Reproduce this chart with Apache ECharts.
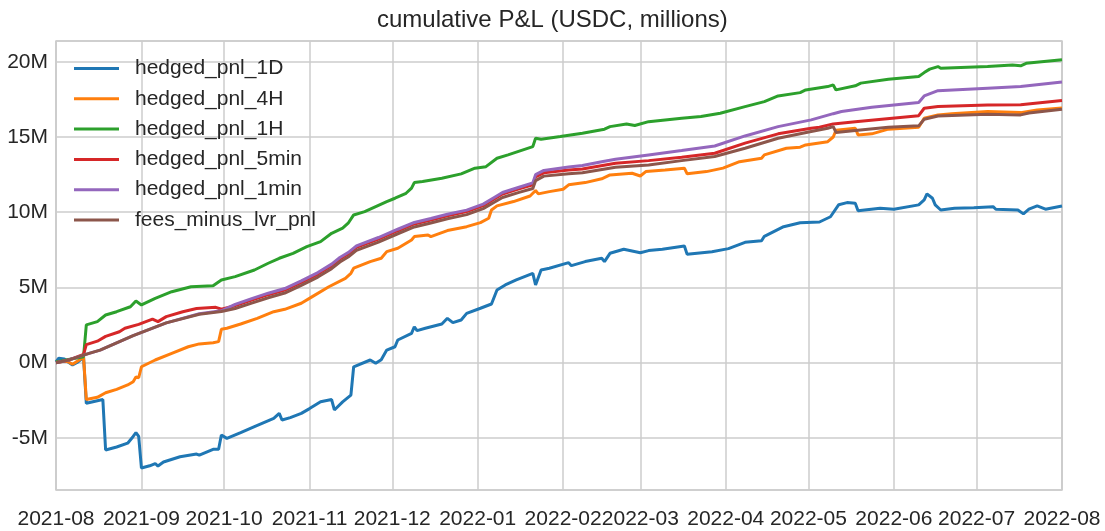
<!DOCTYPE html>
<html>
<head>
<meta charset="utf-8">
<title>cumulative P&amp;L</title>
<script src="https://cdn.jsdelivr.net/npm/echarts@6/dist/echarts.min.js"></script>
<style>
html, body { margin: 0; padding: 0; background: #fff; }
#main { width: 1105px; height: 531px; }
</style>
</head>
<body>
<div id="main"></div>
<script>
// cumulative P&L, millions of USDC, [date, value]
var hedgedPnl1D = [
    ['2021-08-01', 0.05], ['2021-08-02', 0.3], ['2021-08-04', 0.25], ['2021-08-05', 0.1],
    ['2021-08-07', -0.15], ['2021-08-09', 0.05], ['2021-08-11', 0.35], ['2021-08-12', -2.7],
    ['2021-08-18', -2.45], ['2021-08-19', -5.8], ['2021-08-23', -5.6], ['2021-08-27', -5.35],
    ['2021-08-29', -4.9], ['2021-08-30', -4.65], ['2021-08-31', -4.9], ['2021-09-01', -7.0],
    ['2021-09-04', -6.85], ['2021-09-06', -6.7], ['2021-09-07', -6.87], ['2021-09-09', -6.6],
    ['2021-09-15', -6.25], ['2021-09-21', -6.07], ['2021-09-22', -6.15], ['2021-09-27', -5.76],
    ['2021-09-29', -5.75], ['2021-09-30', -4.81], ['2021-10-02', -5.03], ['2021-10-07', -4.65],
    ['2021-10-12', -4.25], ['2021-10-19', -3.7], ['2021-10-21', -3.37], ['2021-10-22', -3.81],
    ['2021-10-25', -3.65], ['2021-10-29', -3.37], ['2021-11-01', -3.05], ['2021-11-05', -2.59],
    ['2021-11-09', -2.45], ['2021-11-10', -3.14], ['2021-11-13', -2.6], ['2021-11-16', -2.15],
    ['2021-11-17', -0.27], ['2021-11-23', 0.18], ['2021-11-25', -0.04], ['2021-11-27', 0.2],
    ['2021-11-29', 0.84], ['2021-12-02', 1.06], ['2021-12-03', 1.51], ['2021-12-08', 1.95],
    ['2021-12-09', 2.39], ['2021-12-10', 2.13], ['2021-12-13', 2.29], ['2021-12-19', 2.57],
    ['2021-12-21', 2.95], ['2021-12-23', 2.66], ['2021-12-26', 2.84], ['2021-12-28', 3.28],
    ['2022-01-02', 3.62], ['2022-01-06', 3.9], ['2022-01-08', 4.83], ['2022-01-11', 5.17],
    ['2022-01-15', 5.5], ['2022-01-21', 5.94], ['2022-01-22', 5.17], ['2022-01-24', 6.16],
    ['2022-01-27', 6.28], ['2022-02-03', 6.65], ['2022-02-04', 6.45], ['2022-02-09', 6.72],
    ['2022-02-15', 6.94], ['2022-02-16', 6.72], ['2022-02-18', 7.27], ['2022-02-23', 7.54],
    ['2022-03-01', 7.31], ['2022-03-04', 7.45], ['2022-03-09', 7.54], ['2022-03-17', 7.76],
    ['2022-03-18', 7.2], ['2022-03-27', 7.38], ['2022-04-02', 7.58], ['2022-04-08', 8.0],
    ['2022-04-14', 8.1], ['2022-04-15', 8.4], ['2022-04-22', 9.04], ['2022-04-28', 9.3],
    ['2022-05-05', 9.35], ['2022-05-09', 9.7], ['2022-05-12', 10.5], ['2022-05-15', 10.64],
    ['2022-05-18', 10.6], ['2022-05-19', 10.1], ['2022-05-27', 10.27], ['2022-06-01', 10.2],
    ['2022-06-10', 10.49], ['2022-06-12', 10.82], ['2022-06-13', 11.22], ['2022-06-15', 10.93],
    ['2022-06-16', 10.49], ['2022-06-18', 10.15], ['2022-06-23', 10.27], ['2022-06-30', 10.3],
    ['2022-07-07', 10.37], ['2022-07-08', 10.2], ['2022-07-16', 10.15], ['2022-07-18', 9.89],
    ['2022-07-20', 10.2], ['2022-07-23', 10.42], ['2022-07-26', 10.2], ['2022-08-01', 10.42]
];

var hedgedPnl4H = [
    ['2021-08-01', 0.05], ['2021-08-05', 0.1], ['2021-08-07', -0.1], ['2021-08-11', 0.36],
    ['2021-08-12', -2.45], ['2021-08-16', -2.3], ['2021-08-19', -2.0], ['2021-08-23', -1.77],
    ['2021-08-27', -1.48], ['2021-08-29', -1.26], ['2021-08-30', -0.95], ['2021-08-31', -1.0],
    ['2021-09-01', -0.27], ['2021-09-06', 0.18], ['2021-09-12', 0.62], ['2021-09-18', 1.06],
    ['2021-09-22', 1.25], ['2021-09-27', 1.33], ['2021-09-29', 1.4], ['2021-09-30', 2.22],
    ['2021-10-02', 2.29], ['2021-10-07', 2.57], ['2021-10-13', 2.95], ['2021-10-19', 3.39],
    ['2021-10-23', 3.55], ['2021-10-29', 3.95], ['2021-11-02', 4.39], ['2021-11-08', 5.05],
    ['2021-11-14', 5.61], ['2021-11-16', 5.94], ['2021-11-17', 6.28], ['2021-11-23', 6.72],
    ['2021-11-27', 6.94], ['2021-11-29', 7.38], ['2021-12-03', 7.61], ['2021-12-08', 8.16],
    ['2021-12-09', 8.38], ['2021-12-14', 8.49], ['2021-12-15', 8.38], ['2021-12-21', 8.78],
    ['2021-12-28', 9.04], ['2022-01-02', 9.31], ['2022-01-05', 9.6], ['2022-01-06', 10.15],
    ['2022-01-08', 10.42], ['2022-01-14', 10.71], ['2022-01-20', 11.08], ['2022-01-21', 11.26],
    ['2022-01-22', 11.44], ['2022-01-23', 11.22], ['2022-01-27', 11.37], ['2022-02-01', 11.53],
    ['2022-02-03', 11.82], ['2022-02-09', 11.97], ['2022-02-15', 12.22], ['2022-02-18', 12.48],
    ['2022-02-26', 12.59], ['2022-03-01', 12.41], ['2022-03-03', 12.7], ['2022-03-10', 12.81],
    ['2022-03-17', 12.93], ['2022-03-18', 12.55], ['2022-03-25', 12.7], ['2022-03-31', 12.93],
    ['2022-04-06', 13.36], ['2022-04-14', 13.59], ['2022-04-15', 13.81], ['2022-04-23', 14.25],
    ['2022-04-28', 14.32], ['2022-04-30', 14.47], ['2022-05-08', 14.69], ['2022-05-10', 15.0],
    ['2022-05-11', 15.45], ['2022-05-18', 15.58], ['2022-05-19', 15.14], ['2022-05-24', 15.21],
    ['2022-05-30', 15.52], ['2022-06-10', 15.65], ['2022-06-12', 16.25], ['2022-06-17', 16.47],
    ['2022-06-22', 16.54], ['2022-07-05', 16.69], ['2022-07-17', 16.62], ['2022-07-23', 16.8],
    ['2022-08-01', 16.93]
];

var hedgedPnl1H = [
    ['2021-08-01', 0.05], ['2021-08-05', 0.2], ['2021-08-11', 0.4], ['2021-08-12', 2.51],
    ['2021-08-16', 2.73], ['2021-08-19', 3.17], ['2021-08-23', 3.39], ['2021-08-28', 3.72],
    ['2021-08-30', 4.1], ['2021-09-01', 3.84], ['2021-09-06', 4.28], ['2021-09-12', 4.72],
    ['2021-09-19', 5.05], ['2021-09-27', 5.12], ['2021-09-30', 5.5], ['2021-10-05', 5.72],
    ['2021-10-12', 6.16], ['2021-10-17', 6.61], ['2021-10-21', 6.94], ['2021-10-26', 7.27],
    ['2021-10-31', 7.71], ['2021-11-05', 8.05], ['2021-11-09', 8.6], ['2021-11-13', 8.94],
    ['2021-11-15', 9.27], ['2021-11-17', 9.82], ['2021-11-21', 10.04], ['2021-11-29', 10.71],
    ['2021-12-02', 10.93], ['2021-12-06', 11.26], ['2021-12-08', 11.6], ['2021-12-09', 11.97],
    ['2021-12-12', 12.04], ['2021-12-19', 12.26], ['2021-12-26', 12.55], ['2021-12-31', 12.93],
    ['2022-01-04', 13.03], ['2022-01-08', 13.59], ['2022-01-12', 13.81], ['2022-01-21', 14.36],
    ['2022-01-22', 14.92], ['2022-01-24', 14.85], ['2022-01-31', 15.03], ['2022-02-08', 15.25],
    ['2022-02-16', 15.52], ['2022-02-18', 15.69], ['2022-02-24', 15.87], ['2022-02-27', 15.76],
    ['2022-03-04', 16.02], ['2022-03-16', 16.25], ['2022-03-23', 16.36], ['2022-03-30', 16.58],
    ['2022-04-08', 17.02], ['2022-04-15', 17.35], ['2022-04-20', 17.73], ['2022-04-28', 17.95],
    ['2022-04-30', 18.13], ['2022-05-08', 18.35], ['2022-05-10', 18.46], ['2022-05-11', 18.13],
    ['2022-05-18', 18.4], ['2022-05-20', 18.58], ['2022-05-30', 18.84], ['2022-06-10', 19.02],
    ['2022-06-12', 19.28], ['2022-06-14', 19.51], ['2022-06-17', 19.68], ['2022-06-18', 19.57],
    ['2022-07-05', 19.68], ['2022-07-14', 19.79], ['2022-07-17', 19.73], ['2022-07-19', 19.9],
    ['2022-08-01', 20.13]
];

var hedgedPnl5min = [
    ['2021-08-01', 0.0], ['2021-08-06', 0.2], ['2021-08-11', 0.55], ['2021-08-12', 1.2],
    ['2021-08-16', 1.43], ['2021-08-19', 1.75], ['2021-08-24', 2.06], ['2021-08-26', 2.29],
    ['2021-08-31', 2.55], ['2021-09-05', 2.9], ['2021-09-07', 2.73], ['2021-09-10', 3.06],
    ['2021-09-16', 3.39], ['2021-09-21', 3.6], ['2021-09-28', 3.68], ['2021-09-30', 3.55],
    ['2021-10-05', 3.79], ['2021-10-11', 4.16], ['2021-10-17', 4.52], ['2021-10-23', 4.83],
    ['2021-10-29', 5.34], ['2021-11-04', 5.89], ['2021-11-09', 6.45], ['2021-11-12', 6.89],
    ['2021-11-15', 7.22], ['2021-11-18', 7.66], ['2021-11-26', 8.22], ['2021-12-03', 8.77],
    ['2021-12-09', 9.22], ['2021-12-15', 9.48], ['2021-12-21', 9.77], ['2021-12-28', 10.04],
    ['2022-01-03', 10.44], ['2022-01-07', 10.88], ['2022-01-10', 11.21], ['2022-01-16', 11.55],
    ['2022-01-21', 11.82], ['2022-01-22', 12.35], ['2022-01-25', 12.62], ['2022-02-03', 12.8],
    ['2022-02-08', 12.88], ['2022-02-20', 13.26], ['2022-03-04', 13.43], ['2022-03-16', 13.66],
    ['2022-03-28', 13.92], ['2022-04-08', 14.59], ['2022-04-20', 15.21], ['2022-05-02', 15.58],
    ['2022-05-05', 15.65], ['2022-05-10', 15.87], ['2022-05-18', 16.02], ['2022-06-10', 16.42],
    ['2022-06-12', 16.91], ['2022-06-17', 17.02], ['2022-07-05', 17.13], ['2022-07-17', 17.15],
    ['2022-08-01', 17.42]
];

var hedgedPnl1min = [
    ['2021-08-01', 0.0], ['2021-08-06', 0.2], ['2021-08-13', 0.62], ['2021-08-17', 0.84],
    ['2021-08-29', 1.8], ['2021-09-10', 2.65], ['2021-09-22', 3.25], ['2021-09-30', 3.45],
    ['2021-10-05', 3.88], ['2021-10-11', 4.26], ['2021-10-17', 4.62], ['2021-10-23', 4.93],
    ['2021-10-29', 5.44], ['2021-11-04', 5.99], ['2021-11-09', 6.55], ['2021-11-12', 6.99],
    ['2021-11-15', 7.32], ['2021-11-18', 7.76], ['2021-11-26', 8.32], ['2021-12-03', 8.87],
    ['2021-12-09', 9.32], ['2021-12-15', 9.58], ['2021-12-21', 9.87], ['2021-12-28', 10.14],
    ['2022-01-03', 10.54], ['2022-01-07', 10.98], ['2022-01-10', 11.31], ['2022-01-16', 11.66],
    ['2022-01-21', 11.95], ['2022-01-22', 12.5], ['2022-01-25', 12.78], ['2022-02-03', 13.0],
    ['2022-02-08', 13.1], ['2022-02-15', 13.36], ['2022-02-20', 13.52], ['2022-03-04', 13.81],
    ['2022-03-16', 14.1], ['2022-03-28', 14.4], ['2022-04-08', 15.07], ['2022-04-20', 15.69],
    ['2022-05-02', 16.14], ['2022-05-10', 16.55], ['2022-05-13', 16.69], ['2022-05-24', 16.98],
    ['2022-06-10', 17.29], ['2022-06-12', 17.73], ['2022-06-17', 18.08], ['2022-07-05', 18.24],
    ['2022-07-17', 18.35], ['2022-08-01', 18.66]
];

var feesMinusLvrPnl = [
    ['2021-08-01', 0.0], ['2021-08-06', 0.2], ['2021-08-13', 0.62], ['2021-08-17', 0.84],
    ['2021-08-29', 1.8], ['2021-09-10', 2.65], ['2021-09-22', 3.22], ['2021-09-30', 3.4],
    ['2021-10-05', 3.6], ['2021-10-11', 3.96], ['2021-10-17', 4.32], ['2021-10-23', 4.63],
    ['2021-10-29', 5.14], ['2021-11-04', 5.69], ['2021-11-09', 6.25], ['2021-11-12', 6.69],
    ['2021-11-15', 7.02], ['2021-11-18', 7.46], ['2021-11-26', 8.02], ['2021-12-03', 8.57],
    ['2021-12-09', 9.02], ['2021-12-15', 9.28], ['2021-12-21', 9.57], ['2021-12-28', 9.84],
    ['2022-01-03', 10.24], ['2022-01-07', 10.66], ['2022-01-10', 10.98], ['2022-01-16', 11.32],
    ['2022-01-21', 11.58], ['2022-01-22', 12.1], ['2022-01-25', 12.4], ['2022-02-03', 12.55],
    ['2022-02-08', 12.62], ['2022-02-20', 12.99], ['2022-03-04', 13.14], ['2022-03-16', 13.43],
    ['2022-03-28', 13.7], ['2022-04-08', 14.25], ['2022-04-20', 14.92], ['2022-05-02', 15.36],
    ['2022-05-08', 15.58], ['2022-05-10', 15.69], ['2022-05-11', 15.3], ['2022-05-18', 15.43],
    ['2022-05-30', 15.65], ['2022-06-10', 15.74], ['2022-06-12', 16.18], ['2022-06-17', 16.4],
    ['2022-07-05', 16.51], ['2022-07-17', 16.47], ['2022-07-20', 16.6], ['2022-08-01', 16.85]
];

var seriesNames = ['hedged_pnl_1D', 'hedged_pnl_4H', 'hedged_pnl_1H',
                   'hedged_pnl_5min', 'hedged_pnl_1min', 'fees_minus_lvr_pnl'];
var seriesData = [hedgedPnl1D, hedgedPnl4H, hedgedPnl1H,
                  hedgedPnl5min, hedgedPnl1min, feesMinusLvrPnl];
var seriesColors = ['#1f77b4', '#ff7f0e', '#2ca02c', '#d62728', '#9467bd', '#8c564b'];

var dateStart = '2021-08-01';
var dateEnd = '2022-08-01';

var myChart = echarts.init(document.getElementById('main'));

var series = [];
for (var i = 0; i < seriesNames.length; i++) {
    series.push({
        name: seriesNames[i],
        type: 'line',
        data: seriesData[i],
        showSymbol: false,
        symbol: 'none',
        lineStyle: {width: 3},
        emphasis: {disabled: true}
    });
}

var option = {
    animation: false,
    color: seriesColors,
    textStyle: {fontFamily: 'Liberation Sans, Arial, sans-serif'},
    title: {
        text: 'cumulative P&L (USDC, millions)',
        left: 377,
        top: 8,
        padding: 0,
        textStyle: {fontSize: 24, fontWeight: 'normal', color: '#262626'}
    },
    legend: {
        data: seriesNames,
        orient: 'vertical',
        left: 69,
        top: 53,
        icon: 'rect',
        itemWidth: 45,
        itemHeight: 3,
        itemGap: 9.3,
        textStyle: {fontSize: 21, lineHeight: 21, color: '#262626', padding: [0, 0, 0, 11]}
    },
    grid: {
        left: 56, right: 43, top: 41, bottom: 41,
        show: true,
        borderColor: '#cccccc',
        borderWidth: 1.5
    },
    xAxis: {
        type: 'time',
        min: dateStart,
        max: dateEnd,
        splitNumber: 12,
        axisLine: {show: false},
        axisTick: {show: false},
        axisLabel: {
            formatter: '{yyyy}-{MM}',
            fontSize: 21,
            color: '#262626',
            margin: 19,
            interval: 0,
            hideOverlap: false
        },
        splitLine: {show: true, lineStyle: {color: '#cccccc', width: 1.5}}
    },
    yAxis: {
        type: 'value',
        min: -8.46,
        max: 21.38,
        splitNumber: 6,
        axisLine: {show: false},
        axisTick: {show: false},
        axisLabel: {
            formatter: function (v) { return v + 'M'; },
            fontSize: 21,
            color: '#262626',
            margin: 8,
            showMinLabel: false,
            showMaxLabel: false
        },
        splitLine: {show: true, lineStyle: {color: '#cccccc', width: 1.5}}
    },
    series: series
};
myChart.setOption(option);
</script>
</body>
</html>
